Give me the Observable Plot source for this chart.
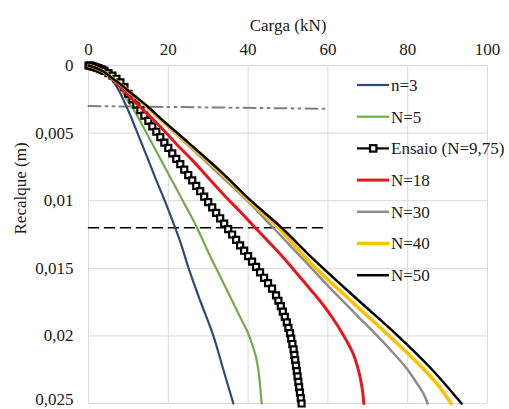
<!DOCTYPE html>
<html>
<head>
<meta charset="utf-8">
<script src="https://cdn.jsdelivr.net/npm/d3@7"></script>
<script src="https://cdn.jsdelivr.net/npm/@observablehq/plot@0.6"></script>
<style>
  html, body { margin: 0; padding: 0; background: #fff; }
  #wrap { position: relative; width: 509px; height: 409px; overflow: hidden; }
  #wrap svg, #wrap text { font-family: "Liberation Serif", "Times New Roman", "DejaVu Serif", serif !important; }
  #legend { position: absolute; left: 0; top: 0; pointer-events: none; }
</style>
</head>
<body>
<div id="wrap"></div>
<script>
// ---- Data (Carga kN, Recalque m) ----
const xTicks = [0, 20, 40, 60, 80, 100];
const yTicks = [0, 0.005, 0.01, 0.015, 0.02, 0.025];

const n3 = [[0,0],[2,0.0002],[4,0.0005],[6,0.0011],[7.5,0.0018],[9,0.0027],[10.5,0.0037],[12,0.0048],[13.5,0.0059],[15,0.007],[17,0.0085],[19.25,0.0101],[21.6,0.0119],[23.3,0.0133],[25.1,0.015],[28,0.0174],[31.3,0.020],[33.8,0.0225],[36.3,0.025]];

const n5 = [[0,0],[2,0.0002],[4,0.0005],[6,0.001],[8,0.0017],[10,0.0027],[12,0.0036],[14,0.0047],[16,0.0058],[18,0.0069],[20,0.008],[22,0.0091],[24,0.0102],[26,0.0113],[28,0.0125],[30,0.0138],[32,0.015],[34,0.0162],[36,0.0174],[38,0.0186],[40,0.0198],[41,0.0206],[42,0.0216],[42.7,0.0228],[43.1,0.024],[43.4,0.025]];

const ensaio = [[0,0],[0.3,0.00001],[0.6,0.00003],[1,0.00006],[1.5,0.0001],[2,0.00015],[2.5,0.0002],[3,0.00026],[3.5,0.00033],[4,0.0004],[5,0.00056],[6,0.00075],[7,0.00098],[8,0.00125],[9,0.0016],[10,0.0021],[11,0.0025],[12,0.0029],[13,0.0033],[14,0.0037],[15,0.0041],[16,0.0045],[17,0.0049],[18,0.0053],[19,0.0057],[20,0.0061],[21,0.0065],[22,0.0069],[23,0.0073],[24,0.0077],[25,0.0081],[26,0.0085],[27,0.0089],[28,0.0093],[29,0.0097],[30,0.0101],[31,0.0105],[32,0.0109],[33,0.0113],[34,0.0117],[35,0.0121],[36,0.0125],[37,0.0129],[38,0.0133],[39,0.0137],[40,0.0141],[41,0.0145],[42,0.0149],[43,0.0153],[44,0.0157],[45,0.0161],[46,0.0165],[47,0.017],[47.6,0.0174],[48.2,0.0178],[48.7,0.0182],[49.2,0.0186],[49.7,0.019],[50.1,0.0194],[50.5,0.0198],[50.8,0.0202],[51.1,0.0206],[51.4,0.021],[51.6,0.0214],[51.8,0.0218],[52,0.0222],[52.2,0.0226],[52.4,0.023],[52.6,0.0234],[52.8,0.0238],[53,0.0242],[53.2,0.0246],[53.4,0.025]];

const n18 = [[0,0],[2,0.0002],[4,0.0005],[6,0.001],[8,0.0016],[10,0.0022],[12,0.0028],[14.5,0.0035],[17.6,0.0044],[22,0.0058],[26,0.007],[30,0.0083],[34,0.0096],[38,0.0108],[41.8,0.012],[46,0.0133],[50,0.0146],[54,0.016],[58,0.0174],[61,0.0186],[64,0.020],[66.3,0.0213],[67.8,0.0227],[68.6,0.0239],[69,0.025]];

const n30 = [[0,0],[2,0.0002],[4,0.0005],[6.2,0.001],[8.5,0.0015],[10.5,0.002],[14.3,0.003],[18,0.004],[25,0.0059],[33,0.0081],[39.8,0.010],[46.3,0.012],[54,0.0144],[62,0.0169],[67,0.0184],[72.4,0.020],[76.5,0.0213],[79.7,0.0224],[82.3,0.0235],[84,0.0243],[85,0.025]];

const n40 = [[0,0],[2,0.0002],[4,0.0005],[6.25,0.001],[8.5,0.0015],[10.5,0.002],[14.5,0.003],[18.2,0.004],[25,0.0058],[33,0.0079],[40.3,0.010],[47.6,0.012],[55,0.0144],[65,0.0172],[75,0.0199],[83.5,0.0223],[87.5,0.0236],[90.9,0.025]];

const n50 = [[0,0],[2,0.0002],[4,0.0005],[6.25,0.001],[8.5,0.0015],[10.5,0.002],[14.7,0.003],[18.4,0.004],[25,0.0057],[33,0.0078],[40.7,0.010],[48.4,0.012],[56.3,0.0143],[67,0.0172],[77.2,0.0199],[85.5,0.0223],[93.5,0.025]];

const dashedRef = [[0,0.012],[60,0.012]];
const dashDotRef = [[0,0.003],[60,0.0032]];

const seriesNames = ["n=3", "N=5", "Ensaio (N=9,75)", "N=18", "N=30", "N=40", "N=50"];
const seriesColors = ["#2E4A7D", "#70AD47", "#000000", "#E8161B", "#8C8C8C", "#FFC000", "#000000"];
const seriesWidths = [2.2, 2.2, 2, 3, 2.5, 3.5, 2.5];

// ---- Chart ----
const FONT = '"Liberation Serif", "Times New Roman", "DejaVu Serif", serif';
const FS = 17;
const fmt = d => d === 0 ? "0" : String(d).replace(".", ",");
const X = d => d[0], Y = d => d[1];
const lineOf = (data, i) => Plot.line(data, {x: X, y: Y, stroke: seriesColors[i], strokeWidth: seriesWidths[i], curve: "catmull-rom"});

const chart = Plot.plot({
  width: 509,
  height: 409,
  marginLeft: 88,
  marginRight: 22,
  marginTop: 65,
  marginBottom: 6,
  x: {domain: [0, 100]},
  y: {domain: [0, 0.025], reverse: true},
  style: {fontFamily: FONT, fontSize: FS + "px", background: "white", color: "#1a1a1a", overflow: "visible"},
  marks: [
    Plot.gridX(xTicks, {stroke: "#d9d9d9", strokeOpacity: 1}),
    Plot.gridY(yTicks, {stroke: "#d9d9d9", strokeOpacity: 1}),
    Plot.axisX(xTicks, {anchor: "top", tickSize: 0, tickPadding: 11, label: null, fontSize: FS}),
    Plot.axisY(yTicks.slice(0, 5), {anchor: "left", tickSize: 0, tickPadding: 15, tickFormat: fmt, label: null, fontSize: FS}),
    Plot.axisY(yTicks.slice(5), {anchor: "left", tickSize: 0, tickPadding: 15, tickFormat: fmt, label: null, fontSize: FS, dy: -4}),
    Plot.line(dashedRef, {x: X, y: Y, stroke: "#000", strokeWidth: 1.6, strokeDasharray: "10,6"}),
    Plot.line(dashDotRef, {x: X, y: Y, stroke: "#7f7f7f", strokeWidth: 2, strokeDasharray: "12,5,2,5,2,5"}),
    lineOf(n3, 0),
    lineOf(n5, 1),
    Plot.line(ensaio, {x: X, y: Y, stroke: "#000", strokeWidth: 2, curve: "catmull-rom"}),
    Plot.dot(ensaio, {x: X, y: Y, symbol: "square", r: 3.4, stroke: "#000", strokeWidth: 2.2, fill: "#fff"}),
    lineOf(n18, 3),
    lineOf(n30, 4),
    lineOf(n40, 5),
    lineOf(n50, 6),
    Plot.text(["Carga (kN)"], {frameAnchor: "top", dy: -47, fontSize: FS}),
    Plot.text(["Recalque (m)"], {frameAnchor: "left", dx: -68, rotate: -90, fontSize: FS})
  ]
});
document.getElementById("wrap").appendChild(chart);

// ---- Legend (inside plot area, right) ----
const lg = d3.select("#wrap").append("svg")
  .attr("id", "legend").attr("width", 509).attr("height", 409)
  .attr("font-family", FONT)
  .attr("font-size", FS);
seriesNames.forEach((name, i) => {
  const yy = 85 + i * 31.7;
  lg.append("line").attr("x1", 357).attr("x2", 389).attr("y1", yy).attr("y2", yy)
    .attr("stroke", seriesColors[i]).attr("stroke-width", i === 2 ? 2.2 : seriesWidths[i]);
  if (i === 2) {
    lg.append("rect").attr("x", 370).attr("y", yy - 3.2).attr("width", 6.4).attr("height", 6.4)
      .attr("fill", "#fff").attr("stroke", "#000").attr("stroke-width", 2.2);
  }
  lg.append("text").attr("x", 391).attr("y", yy).attr("dy", "0.35em")
    .attr("fill", "#1a1a1a").text(name);
});
</script>
</body>
</html>
